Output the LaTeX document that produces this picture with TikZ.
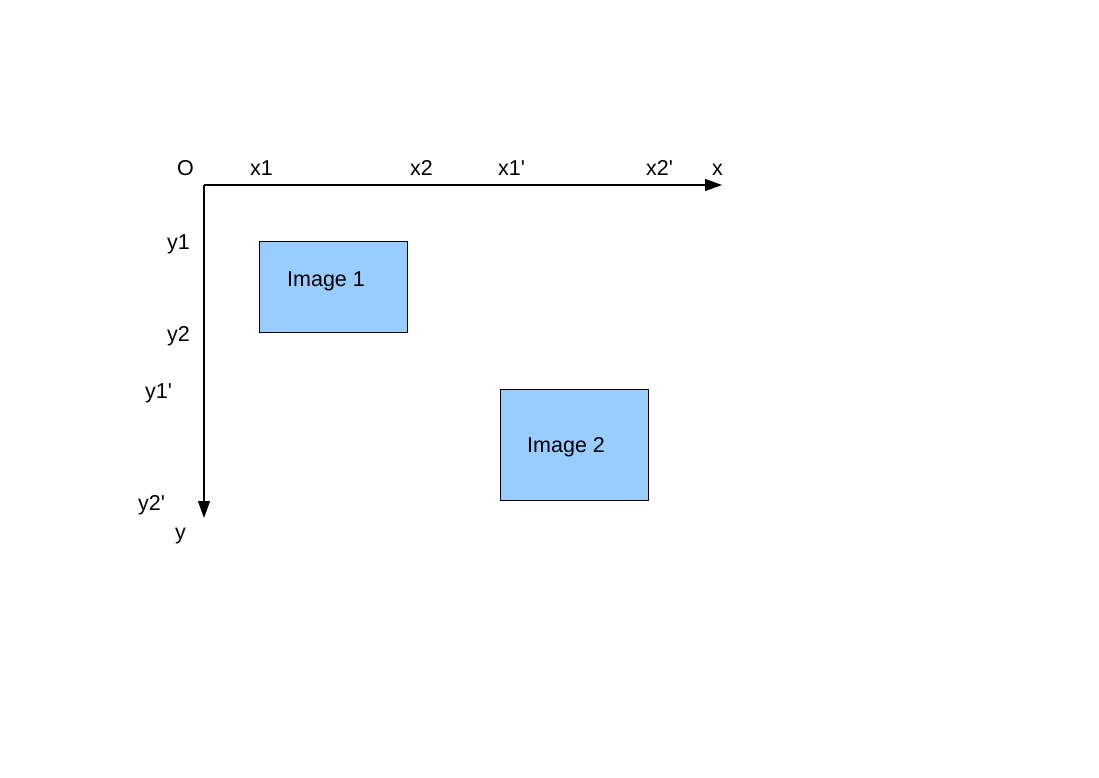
\documentclass[tikz,border=0pt]{standalone}
\usepackage{fontspec}
\setmainfont{Liberation Sans}
\usetikzlibrary{arrows.meta}
\begin{document}
\begin{tikzpicture}[x=1pt,y=-1pt,
  lbl/.style={anchor=base west,inner sep=0pt,font=\fontsize{21.5}{24}\selectfont},
  imgbox/.style={draw=black,fill=imgblue,line width=1pt,inner sep=0pt},
  axis/.style={draw=black,line width=1.2pt,-{Triangle[length=17pt,width=12pt]}}]
\definecolor{imgblue}{HTML}{99CCFF}
\useasboundingbox (0,0) rectangle (1099,777);
\coordinate (O) at (204,185);
\coordinate (xend) at (722,185);
\coordinate (yend) at (204,518);
\draw[axis] (O) -- (xend);
\draw[axis] (O) -- (yend);
\node[imgbox,minimum width=148pt,minimum height=91pt] (img1) at (333,286.5) {};
\node[imgbox,minimum width=148pt,minimum height=111pt] (img2) at (574,444.5) {};
\node[lbl] (t1) at (287,286) {Image 1};
\node[lbl] (t2) at (527,452) {Image 2};
\node[lbl] (lo) at (177,175) {O};
\node[lbl] (lx1) at (250,175) {x1};
\node[lbl] (lx2) at (410,175) {x2};
\node[lbl] (lx1p) at (498,175) {x1\textquotesingle};
\node[lbl] (lx2p) at (646,175) {x2\textquotesingle};
\node[lbl] (lx) at (712,175) {x};
\node[lbl] (ly1) at (167,249) {y1};
\node[lbl] (ly2) at (167,341) {y2};
\node[lbl] (ly1p) at (145,398) {y1\textquotesingle};
\node[lbl] (ly2p) at (138,510) {y2\textquotesingle};
\node[lbl] (ly) at (175,539) {y};
\end{tikzpicture}
\end{document}
